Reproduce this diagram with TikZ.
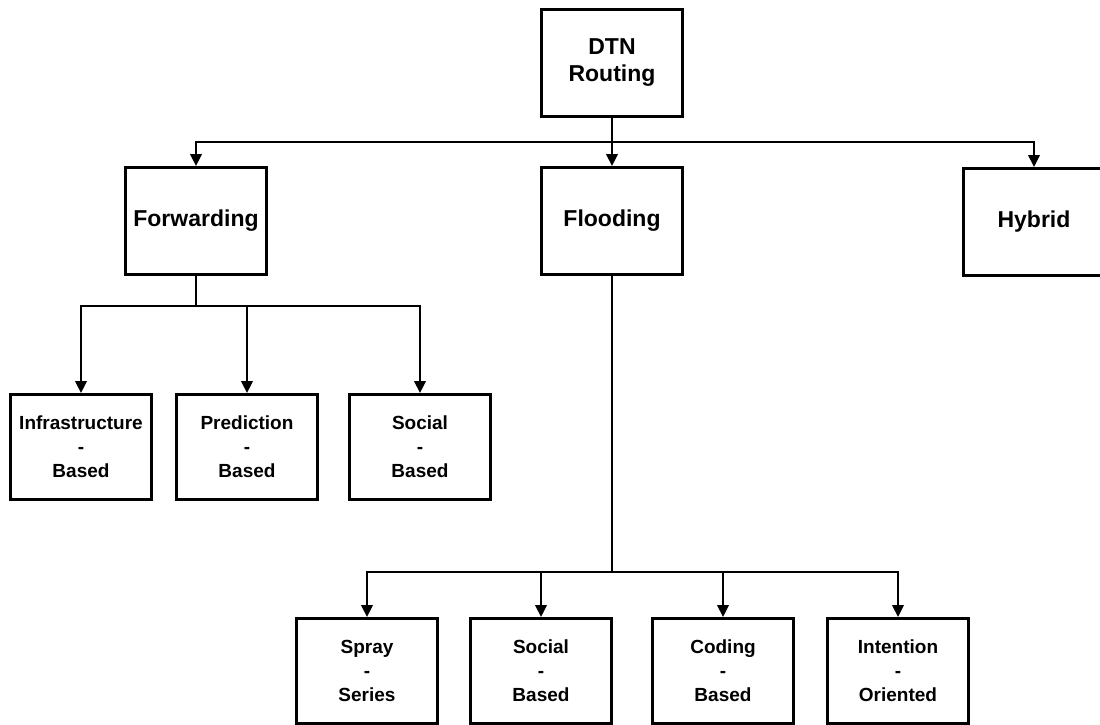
\documentclass[tikz,border=0pt]{standalone}
\usepackage{fontspec}
\setmainfont{Liberation Sans}
\usetikzlibrary{arrows.meta}
\tikzset{
  box/.style={draw, line width=2.6pt, minimum width=141pt, minimum height=107pt,
              inner sep=0pt, align=center, font=\fontsize{23}{27}\selectfont\bfseries},
  leaf/.style={box, minimum height=105pt, font=\fontsize{19}{24}\selectfont\bfseries},
  link/.style={line width=2.8pt},
  arr/.style={link, -{Triangle[length=12pt, width=11pt]}}
}
\begin{document}
\begin{tikzpicture}[x=1pt, y=-1pt]
  \useasboundingbox (0,0) rectangle (1100,725);

  % root
  \node[box] (dtn) at (612,63) {DTN\\Routing};

  % first level
  \node[box] (fwd) at (196,221) {Forwarding};
  \node[box] (fld) at (612,221) {Flooding};
  \node[box] (hyb) at (1034,222) {Hybrid};

  % forwarding family
  \node[leaf] (inf)  at (81,447)  {Infrastructure\\-\\Based};
  \node[leaf] (pred) at (247,447) {Prediction\\-\\Based};
  \node[leaf] (soc1) at (420,447) {Social\\-\\Based};

  % flooding family
  \node[leaf] (spr)  at (367,671) {Spray\\-\\Series};
  \node[leaf] (soc2) at (541,671) {Social\\-\\Based};
  \node[leaf] (cod)  at (723,671) {Coding\\-\\Based};
  \node[leaf] (int)  at (898,671) {Intention\\-\\Oriented};

  % bus junctions
  \coordinate (b1) at (612,142);
  \coordinate (b2) at (196,306);
  \coordinate (b3) at (612,572);

  % root to first level
  \draw[arr] (dtn.south) -- (fld.north);
  \draw[arr] (b1) -| (fwd.north);
  \draw[arr] (b1) -| (hyb.north);

  % forwarding branches
  \draw[link] (fwd.south) -- (b2);
  \draw[arr] (b2) -| (inf.north);
  \draw[arr] (b2) -| (pred.north);
  \draw[arr] (b2) -| (soc1.north);

  % flooding branches
  \draw[link] (fld.south) -- (b3);
  \draw[arr] (b3) -| (spr.north);
  \draw[arr] (b3) -| (soc2.north);
  \draw[arr] (b3) -| (cod.north);
  \draw[arr] (b3) -| (int.north);
\end{tikzpicture}
\end{document}
